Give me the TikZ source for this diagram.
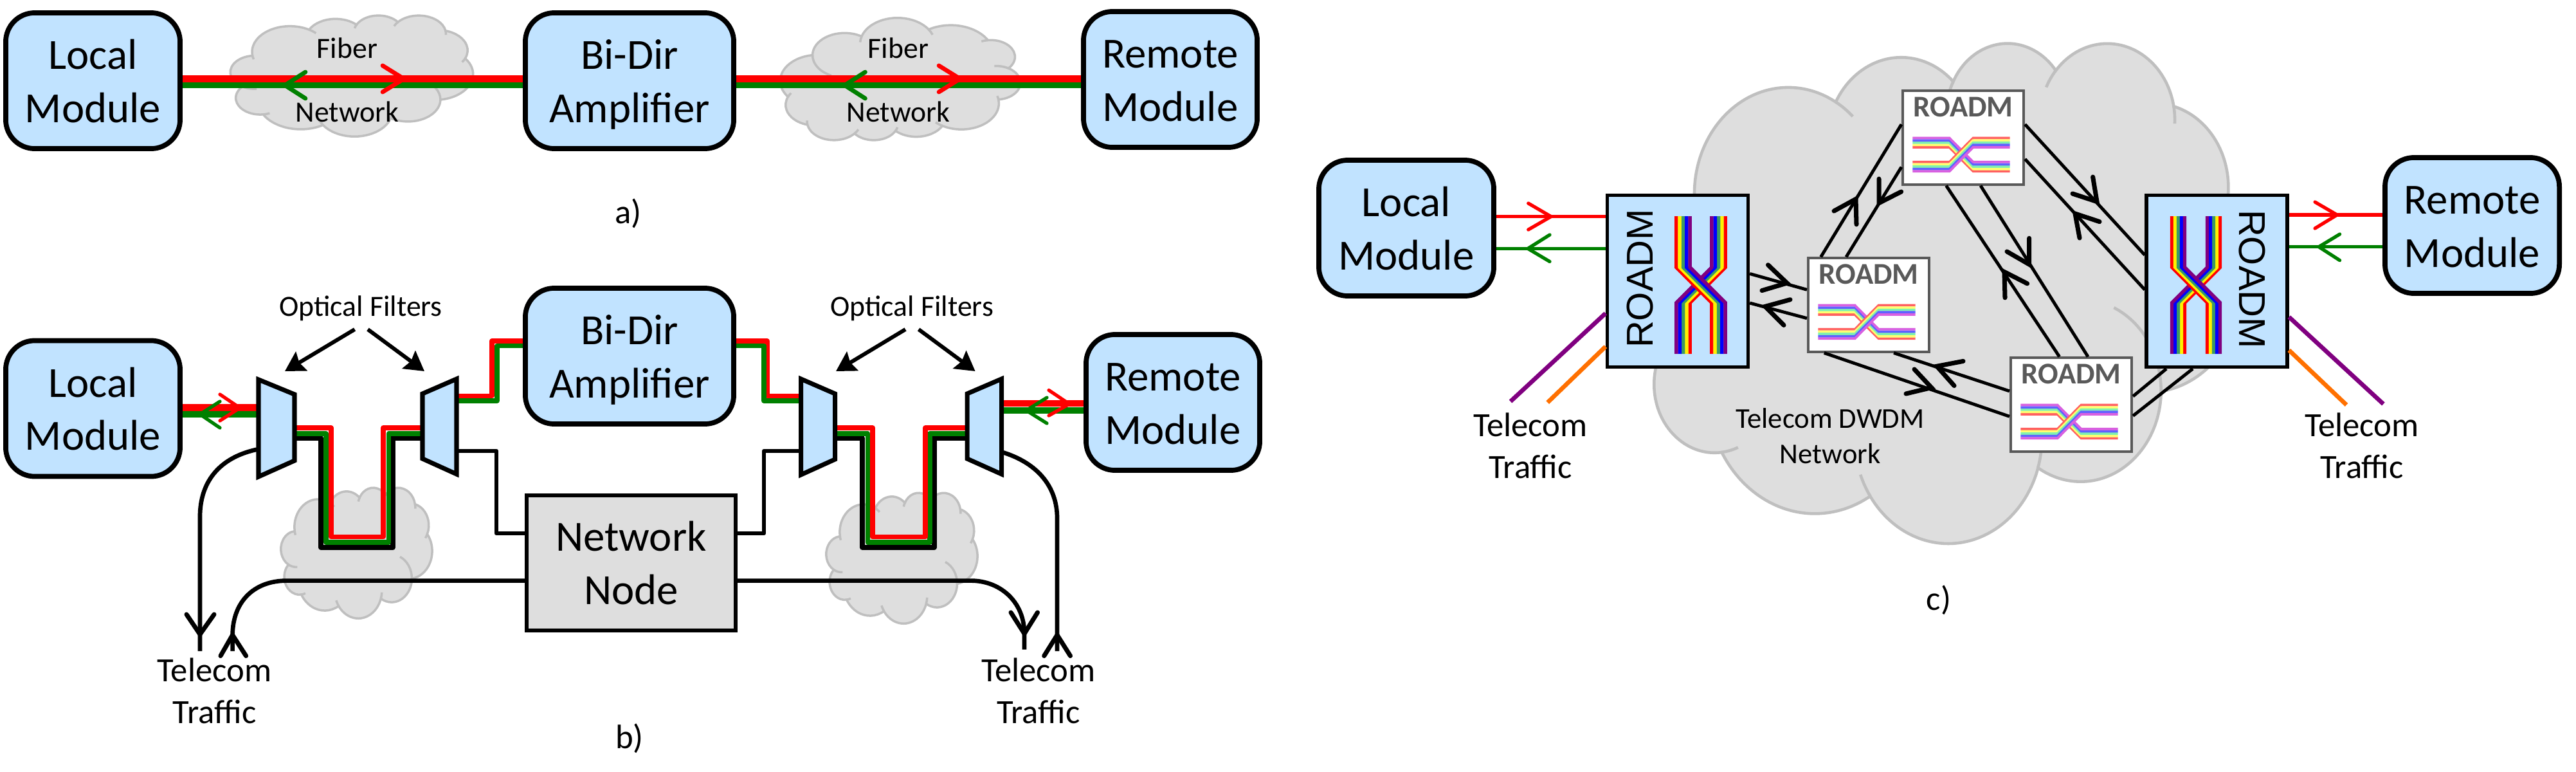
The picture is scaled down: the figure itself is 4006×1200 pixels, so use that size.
\documentclass[tikz,border=0pt]{standalone}
\usepackage{fontspec}
\setmainfont{Carlito}
\newfontfamily\arialfont{Liberation Sans}
\usetikzlibrary{arrows.meta}

\definecolor{boxblue}{HTML}{C1E3FF}
\definecolor{netgray}{HTML}{DEDEDE}
\definecolor{cloudedge}{HTML}{BFBFBF}
\definecolor{minigray}{HTML}{595959}
\definecolor{fibgreen}{HTML}{008000}
\definecolor{bandgreen}{HTML}{3C9A64}
\definecolor{bandpurple}{HTML}{800080}
\definecolor{telorange}{HTML}{FF7000}
\definecolor{palered}{HTML}{FF6060}
\definecolor{paleyellow}{HTML}{FFFF70}
\definecolor{palegreen}{HTML}{80F0B0}
\definecolor{paleblue}{HTML}{6060FF}
\definecolor{palepurple}{HTML}{D860E0}

\tikzset{
  modbox/.style={draw=black, fill=boxblue, line width=2.2pt, rounded corners=0.45cm,
    inner sep=0pt, align=center, text height=37.9pt, text depth=1pt,
    font=\fontsize{19}{23.5}\selectfont},
  nodebox/.style={draw=black, fill=netgray, line width=1.7pt, inner sep=0pt, align=center,
    minimum width=3.25cm, minimum height=2.1cm, font=\fontsize{19}{23.5}\selectfont},
  roadmbox/.style={draw=black, fill=boxblue, line width=1.5pt, inner sep=0pt,
    minimum width=2.19cm, minimum height=2.67cm},
  roadmtext/.style={inner sep=0pt, font=\arialfont\fontsize{16.5}{18}\selectfont},
  minibox/.style={draw=minigray, fill=white, line width=1.15pt, inner sep=0pt,
    minimum width=1.88cm, minimum height=1.45cm},
  minitext/.style={inner sep=0pt, text=minigray, font=\fontsize{13.3}{15}\selectfont\bfseries},
  filterbox/.style={draw=black, fill=boxblue, line width=2pt, miter limit=10},
  labelsmall/.style={inner sep=0pt, align=center, font=\fontsize{13}{15.6}\selectfont},
  labeltraffic/.style={inner sep=0pt, align=center, font=\fontsize{15}{18.5}\selectfont},
  widered/.style={draw=red, line width=3.1pt},
  widegreen/.style={draw=fibgreen, line width=2.7pt},
  routered/.style={draw=red, line width=2.2pt},
  routegreen/.style={draw=fibgreen, line width=2.2pt},
  routeblack/.style={draw=black, line width=2.2pt},
  thinblack/.style={draw=black, line width=1.9pt},
  linkblack/.style={draw=black, line width=1.4pt},
  chevblack/.style={draw=black, line width=2pt, line cap=round},
  chevred/.style={draw=red, line width=#1, line cap=round},
  chevgreen/.style={draw=fibgreen, line width=#1, line cap=round},
  thinred/.style={draw=red, line width=1.5pt},
  thingreen/.style={draw=fibgreen, line width=1.5pt},
  telpurple/.style={draw=bandpurple, line width=1.9pt},
  telorangeline/.style={draw=telorange, line width=1.9pt},
  filterarrow/.style={draw=black, line width=1.7pt, -{Stealth[length=0.3cm,width=0.34cm,inset=0.04cm]}},
  cloudline/.style={draw=cloudedge, fill=netgray}
}

% cloud in a 432 by 432 box, corner at #1,#2, size #3 by #4
\newcommand{\netcloud}[5]{%
  \begin{scope}[shift={(#1,#2)}, xscale=#3/432, yscale=#4/432]
    \draw[cloudline, line width=#5] (39,143.7)
      \foreach \st/\dt/\rx/\ry in {-187.74/128.11/67.53/91.90, -152.02/106.57/53.33/72.67,
        -153.48/116.15/43.65/59.45, -139.70/129.49/48.57/65.95, -74.77/97.98/53.33/72.73,
        -37.53/119.39/67.75/92.20, 0.46/121.51/57.85/78.67, 16.84/129.40/67.52/92.15,
        58.98/91.21/77.20/105.43, -276.69/139.79/43.60/59.18, -239.66/143.77/43.45/59.45}
      { arc[start angle=\st, delta angle=\dt, x radius=\rx, y radius=\ry] } -- cycle;
    \foreach \hx/\hy/\st/\dt/\rx/\ry in {39/143.7/-187.74/-9/67.53/91.90,
        140.05/52/-59.63/13/67.53/91.90, 224.5/34.3/-153.48/-13/43.65/59.45,
        298.3/24.8/-139.7/-15/48.57/65.95, 383.15/55.76/-10.21/13/48.57/65.95,
        418.15/154.6/23.21/12/53.33/72.73, 374/302/0.46/-66/57.85/78.67,
        285.5/368.1/16.84/-13/67.52/92.15, 164.8/392.6/146.24/13/67.52/92.15,
        58/354.7/83.31/-16/43.60/59.18, 21.1/255.5/120.34/-35/43.45/59.45}
      \draw[draw=cloudedge, line width=#5] (\hx,\hy)
        arc[start angle=\st, delta angle=\dt, x radius=\rx, y radius=\ry];
  \end{scope}}

% crossing colour bands: scope options, band width, group shift, half length, half knee, colours
\newcommand{\crossbands}[6]{%
  \begin{scope}[#1]
    \foreach \c [count=\i from 0] in {#6} {
      \pgfmathsetmacro\xa{#3/2-(\i-2)*#2}
      \draw[draw=\c, line width=#2*0.0105cm] (\xa,-#4) -- (\xa,-#5) -- (\xa-#3,#5) -- (\xa-#3,#4);
    }
    \foreach \c [count=\i from 0] in {#6} {
      \pgfmathsetmacro\xb{-#3/2+(\i-2)*#2}
      \draw[draw=\c, line width=#2*0.0105cm] (\xb,-#4) -- (\xb,-#5) -- (\xb+#3,#5) -- (\xb+#3,#4);
    }
  \end{scope}}

% small white switch box
\newcommand{\miniroadm}[3]{%
  \node[minibox] (#1) at (#2,#3) {};
  \node[minitext] (#1txt) at (#2,#3-48) {ROADM};
  \crossbands{shift={(#2-3,#3+26.4)}, rotate=90}{3.6}{37.3}{75.7}{18.4}{palered,paleyellow,palegreen,paleblue,palepurple}}

\begin{document}
\begin{tikzpicture}[x=0.01cm, y=0.01cm, yscale=-1]
\useasboundingbox (0,0) rectangle (4006,1200);

% Clouds behind everything
\netcloud{358.5}{23.5}{377}{188}{1pt}
\netcloud{1586.5}{218.5}{-373}{-190}{1pt}
\netcloud{437}{757.5}{235}{203}{1pt}
\netcloud{1285}{765.5}{235}{203}{1pt}
\netcloud{2552}{65}{934}{777}{1.3pt}

% Panel a: boxes
\node[modbox, minimum width=2.71cm, minimum height=2.11cm] (locala) at (144.5,125.5) {Local\\Module};
\node[modbox, minimum width=3.24cm, minimum height=2.11cm] (bidira) at (979,125.5) {Bi-Dir\\Amplifier};
\node[modbox, minimum width=2.70cm, minimum height=2.11cm] (remotea) at (1820,123.5) {Remote\\Module};

% Panel a: fibers
\draw[widered] (locala.east |- 0,122.5) -- (bidira.west |- 0,122.5);
\draw[widegreen] (locala.east |- 0,132.5) -- (bidira.west |- 0,132.5);
\draw[widered] (bidira.east |- 0,122.5) -- (remotea.west |- 0,122.5);
\draw[widegreen] (bidira.east |- 0,132.5) -- (remotea.west |- 0,132.5);

% Panel a: arrowheads
\foreach \tipx in {628,1493}
  \draw[chevred=1.9pt] (\tipx-33,102) -- (\tipx,122.5) -- (\tipx-33,143);
\foreach \tipx in {443,1313.5}
  \draw[chevgreen=1.9pt] (\tipx+32,112) -- (\tipx,132.5) -- (\tipx+32,153);

\node[labelsmall] (fibera) at (540,75) {Fiber};
\node[labelsmall] (neta) at (540,174) {Network};
\node[labelsmall] (fiberb) at (1397,75) {Fiber};
\node[labelsmall] (netb) at (1397,174) {Network};
\node[labeltraffic] (capa) at (977,332) {a)};

% Panel b: boxes
\node[modbox, minimum width=2.71cm, minimum height=2.11cm] (localb) at (144.5,635) {Local\\Module};
\node[modbox, minimum width=3.24cm, minimum height=2.11cm] (bidirb) at (979,553.5) {Bi-Dir\\Amplifier};
\node[modbox, minimum width=2.70cm, minimum height=2.11cm] (remoteb) at (1824,625.5) {Remote\\Module};
\node[nodebox] (netnode) at (981.5,875) {Network\\Node};

% Panel b: centers of the four filters
\coordinate (filta) at (430,665);
\coordinate (filtb) at (683,665);
\coordinate (filtc) at (1272,665);
\coordinate (filtd) at (1531,665);

% Panel b: module to filter
\draw[widered] (localb.east |- 0,633.5) -- (filta |- 0,633.5);
\draw[widegreen] (localb.east |- 0,644) -- (filta |- 0,644);
\draw[widered] (remoteb.west |- 0,627) -- (filtd |- 0,627);
\draw[widegreen] (remoteb.west |- 0,638) -- (filtd |- 0,638);
\draw[chevred=1.5pt] (342,613) -- (373,634) -- (342,654);
\draw[chevgreen=1.5pt] (342,624) -- (311,644) -- (342,665);
\draw[chevred=1.5pt] (1631,606.5) -- (1663,628) -- (1631,646);
\draw[chevgreen=1.5pt] (1628,618) -- (1596,638) -- (1628,658);

% Panel b: fiber loops through the clouds
\draw[routeblack, line join=round] (filta |- 0,681) -| (499,851) -| (611,681) -- (filtb |- 0,681);
\draw[routegreen, line join=round] (filta |- 0,674) -| (507,843) -| (604.6,674) -- (filtb |- 0,674);
\draw[routered, line join=round] (filta |- 0,665) -| (515,834.5) -| (596,665) -- (filtb |- 0,665);
\draw[routeblack, line join=round] (filtc |- 0,681) -| (1341,851) -| (1453,681) -- (filtd |- 0,681);
\draw[routegreen, line join=round] (filtc |- 0,674) -| (1349.5,843) -| (1446,674) -- (filtd |- 0,674);
\draw[routered, line join=round] (filtc |- 0,665) -| (1357,834.5) -| (1439,665) -- (filtd |- 0,665);

% Panel b: amplifier and node branches
\draw[routered, line join=round] (filtb |- 0,615.5) -| (765,530) -- (bidirb.west |- 0,530);
\draw[routegreen, line join=round] (filtb |- 0,623) -| (773,537.5) -- (bidirb.west |- 0,537.5);
\draw[routered, line join=round] (filtc |- 0,615.5) -| (1193,530) -- (bidirb.east |- 0,530);
\draw[routegreen, line join=round] (filtc |- 0,623) -| (1188,537.5) -- (bidirb.east |- 0,537.5);
\draw[thinblack, line join=round] (filtb |- 0,701) -| (772,829) -- (netnode.west |- 0,829);
\draw[thinblack, line join=round] (filtc |- 0,701) -| (1188,829) -- (netnode.east |- 0,829);

% Panel b: telecom traffic curves
\draw[thinblack] (filta |- 0,699) -- (398,699) .. controls (340,712) and (311,750) .. (311,803) -- (311,1012);
\draw[thinblack] (filtd |- 0,703.6) -- (1561,703.6) .. controls (1612,720) and (1644,755) .. (1644,805.6) -- (1644,1012);
\draw[thinblack] (netnode.west |- 0,902.6) -- (446,902.6) .. controls (395,902.6) and (362,935) .. (361.6,987) -- (361.6,1012);
\draw[thinblack] (netnode.east |- 0,902.6) -- (1510,902.6) .. controls (1555,902.6) and (1593,935) .. (1593,985) -- (1593,1009.5);
\foreach \ax/\ay/\tx/\ty/\bx/\by in {290/955/311/986/333/955, 343/1019.5/361.6/987/382.6/1019.5,
    1572/952/1593/985/1613.5/952, 1623.7/1019.5/1644/987/1664.5/1019.5}
  \draw[chevblack] (\ax,\ay) -- (\tx,\ty) -- (\bx,\by);

% Panel b: filters
\draw[filterbox] (402,590) -- (458,613) -- (458,716) -- (402,741) -- cycle;
\draw[filterbox] (710,589) -- (657,612) -- (657,713) -- (710,737) -- cycle;
\draw[filterbox] (1245.5,589) -- (1298.5,612) -- (1298.5,714) -- (1245.5,738) -- cycle;
\draw[filterbox] (1557.5,589) -- (1504,612) -- (1504,713) -- (1557.5,737) -- cycle;

% Panel b: filter labels
\node[labelsmall] (optla) at (561,479) {Optical Filters};
\node[labelsmall] (optlb) at (1418,479) {Optical Filters};
\draw[filterarrow] (551.6,512) -- (443,577);
\draw[filterarrow] (572,512) -- (660,577);
\draw[filterarrow] (1408,512) -- (1300,577);
\draw[filterarrow] (1428.6,512) -- (1516.6,577);
\node[labeltraffic] (telb) at (333.5,1073.5) {Telecom\\Traffic};
\node[labeltraffic] (telc) at (1615,1073.5) {Telecom\\Traffic};
\node[labeltraffic] (capb) at (979,1148) {b)};

% Panel c: big boxes
\node[modbox, minimum width=2.72cm, minimum height=2.11cm] (localc) at (2187,354.5) {Local\\Module};
\node[modbox, minimum width=2.71cm, minimum height=2.11cm] (remotec) at (3844.5,350.5) {Remote\\Module};
\node[roadmbox] (roadml) at (2609,437) {};
\node[roadmbox] (roadmr) at (3447.5,437) {};

% Panel c: the three small boxes
\miniroadm{minit}{3053}{214}
\miniroadm{minil}{2906}{474}
\miniroadm{minib}{3221}{629}

% Panel c: links between ROADMs
\draw[linkblack] (roadml.east |- 0,425.5) -- (minil.west |- 0,450.3);
\draw[linkblack] (roadml.east |- 0,471) -- (minil.west |- 0,494.7);
\draw[linkblack] (minil.north -| 2831.6,0) -- (minit.west |- 0,193.3);
\draw[linkblack] (minil.north -| 2871,0) -- (minit.west |- 0,259.6);
\draw[linkblack] (minit.east |- 0,193.3) -- (roadmr.west |- 0,396.4);
\draw[linkblack] (minit.east |- 0,247.2) -- (roadmr.west |- 0,450.3);
\draw[linkblack] (minit.south -| 3080,0) -- (minib.north -| 3247,0);
\draw[linkblack] (minit.south -| 3026.5,0) -- (minib.north -| 3202.6,0);
\draw[linkblack] (minil.south -| 2945,0) -- (minib.west |- 0,607.9);
\draw[linkblack] (minil.south -| 2836.7,0) -- (minib.west |- 0,647.3);
\draw[linkblack] (minib.east |- 0,616) -- (roadmr.south -| 3369,0);
\draw[linkblack] (minib.east |- 0,646.4) -- (roadmr.south -| 3410,0);
\foreach \ax/\ay/\tx/\ty/\bx/\by in {2749.5/411.8/2779/440/2740/451.6, 2784/465.7/2745/476.4/2774/505.5,
    2852/328/2886/309.4/2887/348.8, 2922/278/2922/315.6/2956.6/298,
    3254.6/275/3261/313.5/3223/301, 3265/344.6/3227/332/3234/370,
    3155.6/370.3/3155.6/411/3121/391, 3152.6/440.8/3117/422.6/3118/462.8,
    3053/561.4/3012/569.3/3039/599.6, 2977/574/3003.6/602.5/2964/612}
  \draw[chevblack] (\ax,\ay) -- (\tx,\ty) -- (\bx,\by);

% Panel c: module fibers
\draw[thinred] (localc.east |- 0,336.6) -- (roadml.west |- 0,336.6);
\draw[thingreen] (localc.east |- 0,386.4) -- (roadml.west |- 0,386.4);
\draw[thinred] (remotec.west |- 0,334) -- (roadmr.east |- 0,334);
\draw[thingreen] (remotec.west |- 0,383.7) -- (roadmr.east |- 0,383.7);
\draw[chevred=1.5pt] (2376.7,316) -- (2412,336.6) -- (2376.7,357);
\draw[chevgreen=1.5pt] (2410,365) -- (2376,386.4) -- (2410,406.6);
\draw[chevred=1.5pt] (3600,314) -- (3634.4,334) -- (3600,355);
\draw[chevgreen=1.5pt] (3638.6,364) -- (3606,383.7) -- (3638.6,404.7);

% Panel c: telecom lines
\coordinate (telpa) at (2349,624);
\coordinate (teloa) at (2406.7,625.6);
\coordinate (telpb) at (3706.4,628);
\coordinate (teloc) at (3649,629.4);
\draw[telpurple] (roadml.west |- 0,487) -- (telpa);
\draw[telorangeline] (roadml.west |- 0,538.7) -- (teloa);
\draw[telpurple] (roadmr.east |- 0,492.8) -- (telpb);
\draw[telorangeline] (roadmr.east |- 0,544.4) -- (teloc);

% Panel c: colour crossings and rotated names
\crossbands{shift={(2645,443)}}{5.3}{55}{107}{27.5}{red,yellow,bandgreen,blue,bandpurple}
\crossbands{shift={(3415,443)}}{5.0}{55}{107}{27.5}{red,yellow,bandgreen,blue,bandpurple}
\node[roadmtext, rotate=90] (roadmlname) at (2550,433) {ROADM};
\node[roadmtext, rotate=-90] (roadmrname) at (3502,434) {ROADM};

% Panel c: labels
\node[labeltraffic] (teld) at (2380,692.5) {Telecom\\Traffic};
\node[labeltraffic] (tele) at (3673,692.5) {Telecom\\Traffic};
\node[labelsmall, font=\fontsize{12.7}{15.6}\selectfont] (dwdm) at (2846,677.5) {Telecom DWDM\\Network};
\node[labeltraffic] (capc) at (3015,933) {c)};

\end{tikzpicture}
\end{document}
